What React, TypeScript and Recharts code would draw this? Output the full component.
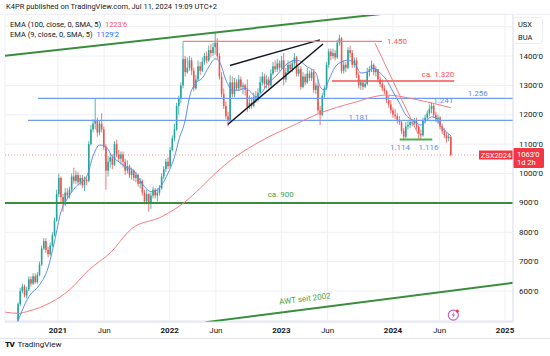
import React from "react";
import {
  ComposedChart,
  Bar,
  Line,
  XAxis,
  YAxis,
  CartesianGrid,
  ReferenceLine,
  ReferenceDot,
} from "recharts";

const FONT = "Roboto, 'Noto Sans', sans-serif";
const DAY = 24 * 3600 * 1000;
const WEEK = 7 * DAY;
const d = (s: string) => Date.parse(s + "T00:00:00Z");

// weekly bars of ZSX2024, first bar week of 2020-08-24
const FIRST_WEEK = d("2020-08-24");
const firstOpen = 500;

const closes2020 = [555, 600, 615, 585, 605, 640, 625, 650, 630, 655, 690, 745, 770, 740, 725, 755, 790, 840, 930];
const highs2020 = [562, 610, 625, 622, 615, 650, 650, 660, 660, 665, 700, 755, 780, 780, 750, 765, 800, 850, 945];
const lows2020 = [495, 548, 592, 578, 575, 600, 615, 620, 625, 625, 650, 685, 740, 730, 715, 720, 750, 785, 835];

const closes2021 = [985, 920, 895, 935, 925, 945, 990, 975, 995, 970, 985, 960, 980, 975, 1100, 1150, 1170, 1180, 1140, 1170, 1150, 1090, 1010, 1040, 1055, 1030, 1100, 1065, 1050, 1065, 1040, 1010, 1025, 995, 1010, 985, 995, 965, 975, 935, 905, 930, 900, 925, 945, 925, 935, 950, 990, 1015, 1040, 1025];
const highs2021 = [1000, 990, 930, 950, 950, 955, 1000, 1020, 1010, 1005, 995, 995, 990, 990, 1110, 1165, 1185, 1255, 1190, 1180, 1205, 1160, 1100, 1060, 1070, 1065, 1110, 1115, 1080, 1075, 1075, 1050, 1045, 1030, 1020, 1015, 1005, 1000, 985, 980, 945, 945, 935, 935, 955, 950, 950, 960, 1000, 1025, 1050, 1055];
const lows2021 = [920, 900, 870, 890, 915, 915, 935, 965, 965, 960, 960, 950, 940, 960, 970, 1095, 1140, 1150, 1125, 1130, 1140, 1080, 945, 990, 1020, 1015, 1025, 1055, 1040, 1030, 1020, 995, 1000, 985, 980, 975, 970, 955, 950, 925, 895, 895, 870, 880, 915, 915, 905, 925, 945, 980, 1005, 1015];

const closes2022 = [1080, 1120, 1150, 1230, 1255, 1300, 1390, 1345, 1360, 1385, 1350, 1290, 1320, 1365, 1350, 1380, 1400, 1385, 1420, 1410, 1430, 1445, 1400, 1330, 1270, 1230, 1195, 1180, 1310, 1270, 1310, 1290, 1320, 1295, 1300, 1285, 1225, 1240, 1230, 1260, 1250, 1275, 1310, 1330, 1305, 1320, 1300, 1340, 1365, 1355, 1375, 1360];
const highs2022 = [1090, 1130, 1170, 1240, 1265, 1310, 1447, 1400, 1395, 1400, 1395, 1360, 1335, 1385, 1380, 1395, 1410, 1415, 1435, 1440, 1445, 1482, 1460, 1410, 1345, 1290, 1245, 1210, 1335, 1330, 1325, 1320, 1335, 1330, 1310, 1305, 1320, 1265, 1260, 1275, 1280, 1290, 1330, 1345, 1340, 1335, 1330, 1355, 1380, 1385, 1390, 1385];
const lows2022 = [1020, 1075, 1110, 1145, 1200, 1240, 1290, 1330, 1340, 1350, 1335, 1280, 1285, 1315, 1335, 1345, 1370, 1375, 1380, 1395, 1400, 1405, 1390, 1320, 1260, 1220, 1185, 1160, 1175, 1260, 1260, 1280, 1280, 1285, 1270, 1265, 1210, 1220, 1220, 1225, 1240, 1245, 1270, 1300, 1290, 1290, 1290, 1295, 1335, 1345, 1345, 1350];

const closes2023 = [1385, 1320, 1345, 1370, 1355, 1375, 1395, 1340, 1355, 1295, 1330, 1310, 1340, 1325, 1345, 1285, 1300, 1215, 1200, 1265, 1290, 1370, 1415, 1400, 1410, 1395, 1445, 1460, 1350, 1370, 1360, 1420, 1410, 1370, 1385, 1335, 1300, 1310, 1295, 1305, 1345, 1355, 1370, 1345, 1355, 1320, 1305, 1290, 1280, 1250, 1235, 1215];
const highs2023 = [1400, 1410, 1360, 1385, 1380, 1385, 1410, 1400, 1365, 1365, 1345, 1340, 1360, 1350, 1355, 1355, 1310, 1320, 1230, 1275, 1300, 1380, 1425, 1425, 1425, 1420, 1455, 1472, 1465, 1385, 1380, 1430, 1435, 1420, 1395, 1395, 1345, 1320, 1320, 1320, 1360, 1365, 1385, 1375, 1365, 1355, 1330, 1320, 1300, 1285, 1265, 1250];
const lows2023 = [1355, 1300, 1310, 1340, 1345, 1345, 1360, 1330, 1330, 1285, 1290, 1300, 1305, 1315, 1315, 1275, 1270, 1205, 1165, 1195, 1255, 1285, 1360, 1385, 1390, 1385, 1390, 1435, 1340, 1340, 1345, 1355, 1395, 1360, 1360, 1325, 1290, 1285, 1285, 1290, 1300, 1330, 1345, 1335, 1330, 1310, 1295, 1280, 1270, 1240, 1225, 1205];

const closes2024 = [1200, 1195, 1180, 1175, 1145, 1125, 1160, 1165, 1175, 1170, 1180, 1160, 1135, 1130, 1180, 1190, 1205, 1220, 1230, 1200, 1185, 1190, 1160, 1145, 1130, 1120, 1125, 1063];
const highs2024 = [1225, 1220, 1205, 1195, 1180, 1155, 1175, 1180, 1185, 1185, 1190, 1190, 1165, 1150, 1190, 1200, 1215, 1235, 1242, 1240, 1210, 1200, 1195, 1170, 1155, 1140, 1135, 1130];
const lows2024 = [1190, 1185, 1170, 1165, 1135, 1114, 1120, 1150, 1155, 1160, 1165, 1150, 1118, 1116, 1125, 1170, 1180, 1195, 1205, 1190, 1175, 1170, 1150, 1135, 1120, 1105, 1110, 1058];

// EMA values, keyed by week number
const ema9Weeks = [-1, 5, 10, 14, 17, 20, 23, 27, 32, 35, 38, 41, 44, 47, 50, 54, 59, 62, 65, 67, 70, 73, 75, 78, 80, 83, 86, 89, 92, 94, 97, 100, 103, 106, 109, 111, 114, 116, 120, 126, 130, 135, 139, 141, 143, 145, 148, 151, 154, 157, 160, 163, 166, 169, 172, 175, 178, 181, 184, 186, 188, 190, 193, 195, 197, 202];
const ema9Values = [480, 581, 621, 680, 770, 870, 915, 955, 990, 1060, 1097, 1091, 1057, 1040, 1023, 1009, 955, 938, 944, 961, 1002, 1057, 1114, 1182, 1261, 1308, 1325, 1363, 1390, 1380, 1318, 1284, 1284, 1291, 1274, 1261, 1278, 1301, 1329, 1376, 1386, 1363, 1342, 1295, 1284, 1318, 1363, 1380, 1386, 1376, 1342, 1346, 1359, 1342, 1318, 1278, 1240, 1199, 1182, 1172, 1165, 1176, 1193, 1189, 1165, 1129];
const ema100Weeks = [-6, 0, 5, 15, 24, 33, 43, 53, 67, 78, 85, 92, 101, 108, 117, 127, 141, 156, 172, 187, 202];
const ema100Values = [528, 524, 532, 560, 604, 672, 730, 812, 853, 904, 950, 1000, 1055, 1088, 1125, 1159, 1206, 1240, 1267, 1250, 1224];

const priceTicks = [500, 600, 700, 800, 900, 1000, 1100, 1200, 1300, 1400, 1500];
const timeTicks = ["2021-01-01", "2021-06-01", "2022-01-01", "2022-06-01", "2023-01-01", "2023-06-01", "2024-01-01", "2024-06-01", "2025-01-01"].map(d);

const lastPrice = 1063;
const ema100Last = "1223'6";
const ema9Last = "1129'2";

const closes = [...closes2020, ...closes2021, ...closes2022, ...closes2023, ...closes2024];
const highs = [...highs2020, ...highs2021, ...highs2022, ...highs2023, ...highs2024];
const lows = [...lows2020, ...lows2021, ...lows2022, ...lows2023, ...lows2024];

const PRE = 6;
const rows: any[] = [];
for (let w = -PRE; w < closes.length; w++) {
  const row: any = { t: FIRST_WEEK + w * WEEK };
  if (w >= 0) {
    row.open = w === 0 ? firstOpen : closes[w - 1];
    row.close = closes[w];
    row.high = highs[w];
    row.low = lows[w];
    row.range = [lows[w], highs[w]];
  }
  rows.push(row);
}
ema9Weeks.forEach((w, k) => (rows[w + PRE].ema9 = ema9Values[k]));
ema100Weeks.forEach((w, k) => (rows[w + PRE].ema100 = ema100Values[k]));

const UP = "#26a69a";
const DOWN = "#ef5350";

function Candle(props: any) {
  const { x, y, width, height, payload } = props;
  if (!payload || payload.high == null) return null;
  const { open, close, high, low } = payload;
  const span = high - low || 1;
  const py = (v: number) => y + ((high - v) / span) * height;
  const cx = x + width / 2;
  const color = close >= open ? UP : DOWN;
  const top = py(Math.max(open, close));
  const bot = py(Math.min(open, close));
  return (
    <g>
      <line x1={cx} x2={cx} y1={y} y2={y + height} stroke={color} strokeWidth={0.8} />
      <rect x={cx - 0.8} y={top} width={1.6} height={Math.max(bot - top, 0.8)} fill={color} />
    </g>
  );
}

const TimeTick = ({ x, y, payload }: any) => {
  const dt = new Date(payload.value);
  const isYear = dt.getUTCMonth() === 0;
  return (
    <text x={x} y={y + 8} textAnchor="middle" dominantBaseline="central" fontSize={8} fontFamily={FONT} fontWeight={isYear ? 700 : 400} fill="#131722">
      {isYear ? dt.getUTCFullYear() : "Jun"}
    </text>
  );
};

const PriceTick = ({ x, y, payload }: any) => {
  if (payload.value < 600 || payload.value > 1400) return null;
  return (
    <text x={x} y={y} dominantBaseline="central" fontSize={8} fontFamily={FONT} fill="#131722">
      {payload.value}'0
    </text>
  );
};

const label = (text: string, color: string, anchor: string = "middle", rotate = 0) => (p: any) => (
  <text
    x={p.cx}
    y={p.cy}
    textAnchor={anchor}
    dominantBaseline="central"
    fontSize={8}
    fontFamily={FONT}
    fill={color}
    transform={rotate ? `rotate(${rotate} ${p.cx} ${p.cy})` : undefined}
  >
    {text}
  </text>
);

const PriceLabel = (props: any) => {
  const vb = props.viewBox || {};
  const right = vb.x + vb.width;
  const y = vb.y;
  return (
    <g fontFamily={FONT} fontSize={7.5}>
      <rect x={right - 34} y={y - 4.5} width={34} height={9} fill="#f23645" />
      <text x={right - 17} y={y} textAnchor="middle" dominantBaseline="central" fill="#fff">ZSX2024</text>
      <rect x={right} y={y - 7} width={31} height={20} rx={1.5} fill="#f23645" />
      <text x={right + 4} y={y - 1} dominantBaseline="central" fill="#fff">1063'0</text>
      <text x={right + 4} y={y + 7.5} dominantBaseline="central" fill="#fff">1d 2h</text>
    </g>
  );
};

const EventIcon = (p: any) => (
  <g>
    <circle cx={p.cx} cy={p.cy} r={5} fill="#fff" stroke="#ba68c8" strokeWidth={1.2} />
    <path d={`M${p.cx + 1} ${p.cy - 3.5} L${p.cx - 2} ${p.cy + 0.5} L${p.cx} ${p.cy + 0.5} L${p.cx - 1} ${p.cy + 3.5} L${p.cx + 2} ${p.cy - 0.5} L${p.cx} ${p.cy - 0.5} Z`} fill="#ba68c8" />
    <circle cx={p.cx + 4} cy={p.cy - 4} r={1.6} fill="#f23645" />
  </g>
);

const BLUE = "#6d9cf2";
const GREEN = "#388e3c";
const PINK = "#f77c80";

export default function App() {
  return (
    <div style={{ position: "fixed", left: 0, top: 0, width: 550, height: 356, background: "#fff", overflow: "hidden", fontFamily: FONT }}>
      <div style={{ position: "absolute", left: 6, top: 2, fontSize: 7.5, color: "#131722", whiteSpace: "nowrap" }}>
        K4PR published on TradingView.com, Jul 11, 2024 19:09 UTC+2
      </div>
      <ComposedChart width={550} height={338} data={rows} margin={{ top: 14, right: 0, bottom: 0, left: 5 }}>
        <CartesianGrid stroke="#eef0f5" strokeWidth={1} />
        <XAxis
          dataKey="t"
          type="number"
          domain={[d("2020-07-12"), d("2025-01-27")]}
          allowDataOverflow
          ticks={timeTicks}
          interval={0}
          tick={<TimeTick />}
          tickLine={false}
          tickSize={0}
          tickMargin={0}
          height={16}
          axisLine={{ stroke: "#e0e3eb" }}
        />
        <YAxis
          orientation="right"
          type="number"
          domain={[494.5, 1543]}
          allowDataOverflow
          ticks={priceTicks}
          interval={0}
          tick={<PriceTick />}
          tickLine={false}
          tickSize={0}
          tickMargin={6}
          width={37}
          axisLine={{ stroke: "#e0e3eb" }}
        />

        <ReferenceLine y={900} stroke={GREEN} strokeWidth={2} />
        <ReferenceLine segment={[{ x: d("2020-10-28"), y: 1256 }, { x: d("2025-01-27"), y: 1256 }]} stroke={BLUE} strokeWidth={1.3} ifOverflow="hidden" />
        <ReferenceLine segment={[{ x: d("2020-09-25"), y: 1181 }, { x: d("2025-01-27"), y: 1181 }]} stroke={BLUE} strokeWidth={1.3} ifOverflow="hidden" />
        <ReferenceLine y={lastPrice} stroke="#f23645" strokeOpacity={0.5} strokeDasharray="1 2" label={<PriceLabel />} />

        <Bar dataKey="range" barSize={2} shape={<Candle />} isAnimationActive={false} />
        <Line dataKey="ema100" type="monotone" stroke={PINK} strokeWidth={1} dot={false} connectNulls isAnimationActive={false} />
        <Line dataKey="ema9" type="monotone" stroke="#5b8ff0" strokeWidth={1} dot={false} connectNulls isAnimationActive={false} />

        <ReferenceLine segment={[{ x: d("2020-07-12"), y: 1401 }, { x: d("2024-01-23"), y: 1550 }]} stroke={GREEN} strokeWidth={2} ifOverflow="hidden" />
        <ReferenceLine segment={[{ x: d("2022-04-29"), y: 494 }, { x: d("2025-01-27"), y: 628 }]} stroke={GREEN} strokeWidth={2} ifOverflow="hidden" />
        <ReferenceLine segment={[{ x: d("2022-07-17"), y: 1368 }, { x: d("2023-05-07"), y: 1455 }]} stroke="#131722" strokeWidth={1.5} />
        <ReferenceLine segment={[{ x: d("2022-07-10"), y: 1167 }, { x: d("2023-05-17"), y: 1441 }]} stroke="#131722" strokeWidth={1.5} />
        <ReferenceLine segment={[{ x: d("2022-02-13"), y: 1450 }, { x: d("2023-11-26"), y: 1450 }]} stroke={PINK} strokeWidth={1.3} />
        <ReferenceLine segment={[{ x: d("2023-06-15"), y: 1315 }, { x: d("2024-07-19"), y: 1315 }]} stroke="#ef5350" strokeWidth={1.5} />
        <ReferenceLine segment={[{ x: d("2023-11-03"), y: 1444 }, { x: d("2024-03-23"), y: 1134 }]} stroke={PINK} strokeWidth={1} />
        <ReferenceLine segment={[{ x: d("2024-01-23"), y: 1116 }, { x: d("2024-05-08"), y: 1116 }]} stroke="#4caf50" strokeWidth={2} />

        <ReferenceDot x={d("2023-12-12")} y={1450} r={0} ifOverflow="visible" shape={label("1.450", "#f7525f", "start")} />
        <ReferenceDot x={d("2024-07-19")} y={1336} r={0} ifOverflow="visible" shape={label("ca. 1.320", "#f7525f", "end")} />
        <ReferenceDot x={d("2024-10-04")} y={1274} r={0} ifOverflow="visible" shape={label("1.256", "#5b8def")} />
        <ReferenceDot x={d("2024-05-11")} y={1247} r={0} ifOverflow="visible" shape={label("1.241", "#5b8def", "start")} />
        <ReferenceDot x={d("2023-09-10")} y={1192} r={0} ifOverflow="visible" shape={label("1.181", "#5b8def")} />
        <ReferenceDot x={d("2024-01-24")} y={1087} r={0} ifOverflow="visible" shape={label("1.114", "#5b8def")} />
        <ReferenceDot x={d("2024-04-26")} y={1087} r={0} ifOverflow="visible" shape={label("1.116", "#5b8def")} />
        <ReferenceDot x={d("2022-12-30")} y={930} r={0} ifOverflow="visible" shape={label("ca. 900", "#43a047")} />
        <ReferenceDot x={d("2023-03-19")} y={573} r={0} ifOverflow="visible" shape={label("AWT seit 2002", "#43a047", "middle", -7)} />
        <ReferenceDot x={d("2024-07-16")} y={518} r={0} ifOverflow="visible" shape={<EventIcon />} />
      </ComposedChart>

      <div style={{ position: "absolute", left: 10, top: 20, fontSize: 7.5, color: "#131722", whiteSpace: "nowrap", lineHeight: "10px" }}>
        <div>EMA (100, close, 0, SMA, 5) <span style={{ color: "#f7525f", marginLeft: 2 }}>{ema100Last}</span></div>
        <div>EMA (9, close, 0, SMA, 5) <span style={{ color: "#2962ff", marginLeft: 2 }}>{ema9Last}</span></div>
      </div>
      <div style={{ position: "absolute", left: 513, top: 17, width: 30, height: 27, border: "1px solid #eceef3", borderRadius: 3, background: "#fff", fontSize: 7.5, color: "#131722", lineHeight: "13px", paddingLeft: 4, boxSizing: "border-box" }}>
        <div>USX</div>
        <div>BUA</div>
      </div>
      <div style={{ position: "absolute", left: 0, top: 338, width: 550, height: 1, background: "#e0e3eb" }} />
      <div style={{ position: "absolute", left: 0, top: 14, width: 550, height: 1, background: "#eef0f5" }} />
      <div style={{ position: "absolute", left: 5, top: 340, fontSize: 8, color: "#131722", whiteSpace: "nowrap", display: "flex", alignItems: "center" }}>
        <span style={{ fontWeight: 900, fontSize: 8, marginRight: 3, letterSpacing: -0.5 }}>TV</span>
        <span>TradingView</span>
      </div>
    </div>
  );
}
